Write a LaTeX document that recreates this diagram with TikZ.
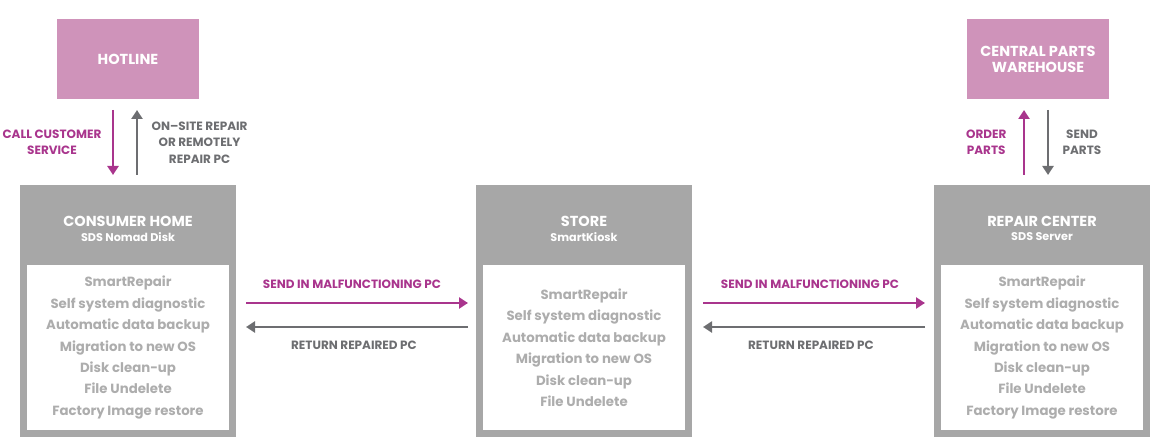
\documentclass[tikz,border=0pt]{standalone}
\usepackage{fontspec}
\setmainfont{Poppins}
\usepackage{xcolor}
\usetikzlibrary{arrows.meta}

\definecolor{boxpink}{HTML}{CF93BA}
\definecolor{magline}{HTML}{A9358D}
\definecolor{boxgray}{HTML}{A7A7A7}
\definecolor{darkline}{HTML}{6D6E71}
\definecolor{listgray}{HTML}{ADADAD}

\begin{document}
\begin{tikzpicture}[x=1pt, y=1pt, node distance=456pt,
    pinkbox/.style={rectangle, fill=boxpink, outer sep=0pt, minimum width=142pt, minimum height=80pt,
        text=white, align=center, font=\bfseries\fontsize{14.5}{16}\selectfont},
    sitebox/.style={rectangle, fill=boxgray, outer sep=0pt, minimum width=216pt, minimum height=252pt},
    listbox/.style={rectangle, fill=white, outer sep=0pt, minimum width=202pt, minimum height=165pt},
    sitetitle/.style={text=white, font=\bfseries\fontsize{14.5}{16}\selectfont},
    sitesub/.style={text=white, font=\bfseries\fontsize{11.2}{13}\selectfont},
    sitelist/.style={text=listgray, align=center, font=\bfseries\fontsize{13.3}{21.5}\selectfont},
    maglabel/.style={text=magline, align=center, font=\bfseries\fontsize{12}{16.5}\selectfont},
    graylabel/.style={text=darkline, align=center, font=\bfseries\fontsize{12}{16.5}\selectfont},
    magarrow/.style={draw=magline, line width=2.6pt, -{Triangle[length=9pt,width=11pt]}},
    grayarrow/.style={draw=darkline, line width=2.6pt, -{Triangle[length=9pt,width=11pt]}}]

    \useasboundingbox (0,0) rectangle (1152,440);

    % the three sites
    \node[sitebox] (home) at (128,129) {};
    \node[sitebox, right of=home] (store) {};
    \node[sitebox, right of=store, xshift=2pt] (repair) {};

    % boxes above
    \node[pinkbox, above of=home, node distance=252pt] (hotline) {HOTLINE};
    \node[pinkbox, above of=repair, node distance=252pt, xshift=-4pt] (warehouse) {CENTRAL PARTS\\WAREHOUSE};

    % headers
    \node[sitetitle] (hometitle) at ([yshift=90pt]home.center) {CONSUMER HOME};
    \node[sitesub] (homesub) at ([yshift=74pt]home.center) {SDS Nomad Disk};
    \node[sitetitle] (storetitle) at ([yshift=90pt]store.center) {STORE};
    \node[sitesub] (storesub) at ([yshift=74pt]store.center) {SmartKiosk};
    \node[sitetitle] (repairtitle) at ([yshift=90pt]repair.center) {REPAIR CENTER};
    \node[sitesub] (repairsub) at ([yshift=74pt]repair.center) {SDS Server};

    % feature lists
    \node[listbox] (homelist) at ([yshift=-36.5pt]home.center) {};
    \node[listbox] (storelist) at ([yshift=-36.5pt]store.center) {};
    \node[listbox] (repairlist) at ([yshift=-36.5pt]repair.center) {};
    \node[sitelist] (homefeat) at (homelist.center) {SmartRepair\\Self system diagnostic\\Automatic data backup\\Migration to new OS\\Disk clean-up\\File Undelete\\Factory Image restore};
    \node[sitelist] (storefeat) at (storelist.center) {SmartRepair\\Self system diagnostic\\Automatic data backup\\Migration to new OS\\Disk clean-up\\File Undelete};
    \node[sitelist] (repairfeat) at (repairlist.center) {SmartRepair\\Self system diagnostic\\Automatic data backup\\Migration to new OS\\Disk clean-up\\File Undelete\\Factory Image restore};

    % hotline
    \draw[magarrow] ([xshift=-15pt,yshift=-11pt]hotline.south) -- ([xshift=-15pt,yshift=10pt]home.north)
        node[midway, left=7pt, maglabel] (calllabel) {CALL CUSTOMER\\SERVICE};
    \draw[grayarrow] ([xshift=9pt,yshift=10pt]home.north) -- ([xshift=9pt,yshift=-11pt]hotline.south)
        node[midway, right=10pt, graylabel] (onsitelabel) {ON--SITE REPAIR\\OR REMOTELY\\REPAIR PC};

    % parts
    \draw[magarrow] ([xshift=-18pt,yshift=10pt]repair.north) -- ([xshift=-14pt,yshift=-11pt]warehouse.south)
        node[midway, left=13pt, maglabel] (orderlabel) {ORDER\\PARTS};
    \draw[grayarrow] ([xshift=10pt,yshift=-11pt]warehouse.south) -- ([xshift=6pt,yshift=10pt]repair.north)
        node[midway, right=10pt, graylabel] (sendlabel) {SEND\\PARTS};

    % shipping
    \draw[magarrow] ([xshift=10pt,yshift=8pt]home.east) -- ([xshift=-8pt,yshift=8pt]store.west)
        node[midway, above=10pt, xshift=-5pt, maglabel] (sendin1) {SEND IN MALFUNCTIONING PC};
    \draw[grayarrow] ([xshift=-8pt,yshift=-16pt]store.west) -- ([xshift=10pt,yshift=-16pt]home.east)
        node[midway, below=9pt, xshift=-3pt, graylabel] (return1) {RETURN REPAIRED PC};
    \draw[magarrow] ([xshift=11pt,yshift=8pt]store.east) -- ([xshift=-9pt,yshift=8pt]repair.west)
        node[midway, above=10pt, xshift=-4pt, maglabel] (sendin2) {SEND IN MALFUNCTIONING PC};
    \draw[grayarrow] ([xshift=-9pt,yshift=-16pt]repair.west) -- ([xshift=11pt,yshift=-16pt]store.east)
        node[midway, below=9pt, xshift=-3pt, graylabel] (return2) {RETURN REPAIRED PC};
\end{tikzpicture}
\end{document}
